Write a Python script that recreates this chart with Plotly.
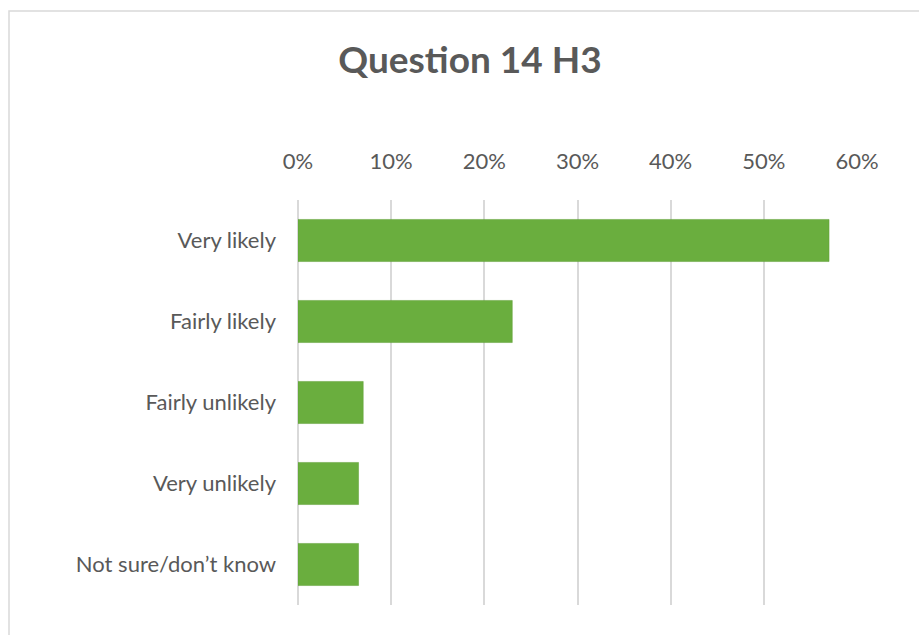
import plotly.graph_objects as go

CATEGORIES = ["Very likely", "Fairly likely", "Fairly unlikely", "Very unlikely", "Not sure/don\u2019t know"]
SHARES = [0.57, 0.23, 0.07, 0.065, 0.065]
TICKS = [0, 0.1, 0.2, 0.3, 0.4, 0.5, 0.6]

GREEN = "#6aae3e"
TEXT = "#595959"
GRID = "#d9d9d9"
FONT = "Lato, Carlito, Open Sans, sans-serif"

W, H = 919, 635
L, R, T, B = 298, 62, 200, 30
PW, PH = W - L - R, H - T - B

fig = go.Figure(go.Bar(
    x=SHARES, y=CATEGORIES, orientation="h",
    marker=dict(color=GREEN, line=dict(color="#5e9e35", width=0.5)),
))

fig.update_layout(
    width=W, height=H,
    paper_bgcolor="white", plot_bgcolor="white",
    margin=dict(l=L, r=R, t=T, b=B),
    bargap=0.48,
    showlegend=False,
    font=dict(family=FONT, color=TEXT, size=22),
    title=dict(text="<b>Question 14 H3</b>", x=470 / W, xanchor="center",
               y=1 - 60 / H, yanchor="middle", font=dict(size=37, color=TEXT, family=FONT)),
)
fig.update_xaxes(
    side="top", range=[0, 0.6], tickvals=TICKS, tickformat=".0%",
    showgrid=True, gridcolor=GRID, gridwidth=1.5,
    zeroline=True, zerolinecolor=GRID, zerolinewidth=1.5,
    showline=False, ticks="", ticklabelstandoff=26,
    tickfont=dict(size=22, color=TEXT),
)
fig.update_yaxes(
    autorange="reversed", showgrid=False, showline=False, ticks="",
    ticklabelstandoff=21, tickfont=dict(size=22, color=TEXT),
)
# chart border (only left and top edges fall inside the picture)
fig.add_shape(type="rect", xref="paper", yref="paper",
              x0=(9 - L) / PW, x1=1 + (R + 20) / PW, y0=-(B + 20) / PH, y1=1 + (T - 11) / PH,
              line=dict(color="#d9d9d9", width=1.5))

fig.write_html("out.html", config={"displayModeBar": False},
               post_script="document.body.style.margin='0';document.body.style.overflow='hidden';")
